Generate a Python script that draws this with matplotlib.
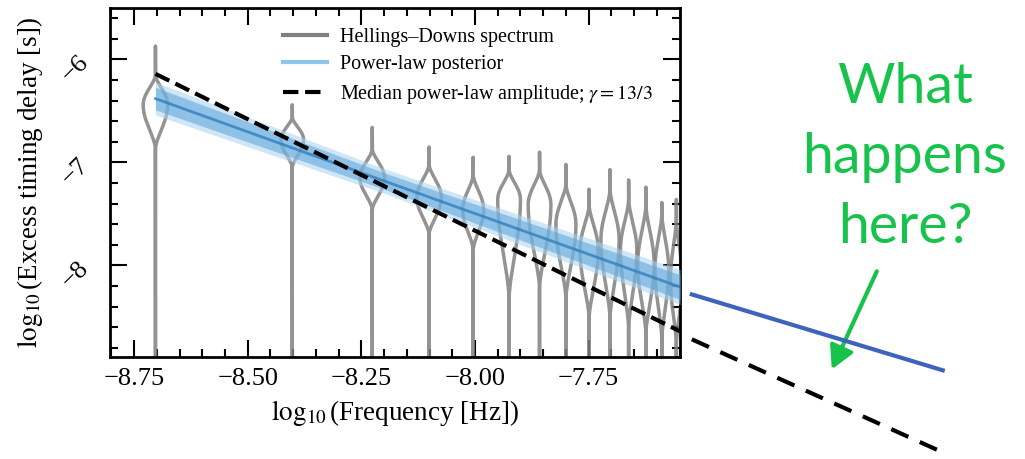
import numpy as np
import matplotlib
matplotlib.use("Agg")
import matplotlib.pyplot as plt
from matplotlib.ticker import MultipleLocator
from matplotlib.lines import Line2D

plt.rcParams['font.family'] = ['Liberation Serif', 'DejaVu Serif']
plt.rcParams['mathtext.fontset'] = 'stix'

# ---------------- data ----------------
# Hellings-Downs free spectrum violins (log10 frequency, log10 delay)
hd_freq = [-8.703, -8.402, -8.226, -8.101, -8.004, -7.925, -7.858,
           -7.800, -7.749, -7.703, -7.662, -7.624, -7.589, -7.557]
hd_top = [-5.87, -6.44, -6.66, -6.85, -6.95, -6.94, -6.90,
          -7.02, -7.26, -7.07, -7.17, -7.24, -7.39, -7.36]
hd_upper = [-6.15, -6.56, -6.87, -7.02, -7.12, -7.07, -7.07,
            -7.21, -7.41, -7.26, -7.36, -7.41, -7.50, -7.55]
hd_peak = [-6.44, -6.78, -7.15, -7.34, -7.46, -7.36, -7.41,
           -7.60, -7.85, -7.75, -7.85, -7.99, -8.04, -8.14]
hd_lower = [-6.87, -7.05, -7.46, -7.70, -7.85, -8.33, -8.23,
            -8.33, -8.52, -8.52, -8.62, -8.67, -8.72, -8.77]
hd_density = [0.027, 0.025, 0.027, 0.027, 0.023, 0.025, 0.025,
              0.022, 0.020, 0.020, 0.018, 0.018, 0.015, 0.013]

# power-law posterior band
post_x = [-8.703, -8.20, -7.549]
post_mid = [-6.38, -7.18, -8.21]
post_inner = [0.11, 0.08, 0.12]
post_outer = [0.16, 0.12, 0.17]

# median power-law amplitude, gamma = 13/3
med_x = [-8.703, -7.549]
med_y = [-6.14, -8.64]

# extrapolations drawn beyond the axes
ext_x = [-7.523, -6.971]
ext_blue_y = [-8.282, -9.019]
ext_black_y = [-8.718, -9.816]
arrow_start = (-7.116, -8.058)
arrow_tip = (-7.215, -9.010)

x_ticks = [-8.75, -8.50, -8.25, -8.00, -7.75]
y_ticks = [-6, -7, -8]
x_lim = (-8.803, -7.549)
y_lim = (-8.89, -5.50)

green_lines = ["What", "happens", "here?"]

# ---------------- figure ----------------
fig = plt.figure(figsize=(10.25, 4.59), dpi=100)
ax = fig.add_axes([110/1025, 1-357/459, 570/1025, 349/459])

gray = '#808080'
for f, top, up, pk, lo, hw in zip(hd_freq, hd_top, hd_upper, hd_peak, hd_lower, hd_density):
    y = np.linspace(y_lim[0] - 0.3, top, 800)
    w = np.zeros_like(y)
    m1 = (y <= up) & (y >= pk)
    s1 = (up - y[m1]) / (up - pk)
    w[m1] = hw * np.sin(np.pi / 2 * s1) ** 1.6
    m2 = (y < pk) & (y >= lo)
    s2 = (y[m2] - lo) / (pk - lo)
    w[m2] = hw * np.sin(np.pi / 2 * s2) ** 1.6
    xs = np.concatenate([f - w, (f + w)[::-1]])
    ys = np.concatenate([y, y[::-1]])
    ax.plot(xs, ys, color=gray, lw=2.5, alpha=0.85, zorder=2)

pm = np.array(post_mid)
pi_ = np.array(post_inner)
po = np.array(post_outer)
ax.fill_between(post_x, pm - po, pm + po, color='#a8d3f0', alpha=0.55, lw=0, zorder=3)
ax.fill_between(post_x, pm - pi_, pm + pi_, color='#5aa4d8', alpha=0.55, lw=0, zorder=3)
ax.plot(post_x, pm, color='#2f7fc0', lw=2, alpha=0.8, zorder=3)

ax.plot(med_x, med_y, color='black', lw=3, ls='--', zorder=4)

ax.set_xlim(*x_lim)
ax.set_ylim(*y_lim)
ax.set_xticks(x_ticks)
ax.set_yticks(y_ticks)
ax.xaxis.set_minor_locator(MultipleLocator(0.05))
ax.yaxis.set_minor_locator(MultipleLocator(0.2))
ax.set_xticklabels([f"\u2212{abs(v):.2f}" for v in x_ticks])
ax.set_yticklabels([f"\u2212{abs(v)}" for v in y_ticks])
ax.tick_params(which='both', direction='in', top=True, right=True, width=1.5)
ax.tick_params(which='major', length=12, labelsize=19)
ax.tick_params(axis='x', which='major', pad=8)
ax.tick_params(axis='y', which='major', pad=12, labelrotation=45)
ax.tick_params(which='minor', length=6)
for sp in ax.spines.values():
    sp.set_linewidth(2)

ax.set_xlabel(r"$\log_{10}$(Frequency [Hz])", fontsize=19.5, labelpad=6)
ax.set_ylabel(r"$\log_{10}$(Excess timing delay [s])", fontsize=19.5, labelpad=9)

handles = [Line2D([], [], color=gray, lw=3),
           Line2D([], [], color='#8ec6ea', lw=3),
           Line2D([], [], color='black', lw=3, ls='--')]
labels = ["Hellings\u2013Downs spectrum", "Power-law posterior",
          r"Median power-law amplitude; $\gamma = 13/3$"]
ax.legend(handles, labels, loc='upper left', bbox_to_anchor=(0.3035, 0.944),
          frameon=False, fontsize=14.5, handlelength=2.2, handletextpad=0.65,
          labelspacing=0.43, borderpad=0, borderaxespad=0)

# extrapolated lines beyond the axes
ax.plot(ext_x, ext_blue_y, color='#3d63bd', lw=3, clip_on=False, zorder=5)
ax.plot(ext_x, ext_black_y, color='black', lw=3, dashes=(4.5, 3), clip_on=False, zorder=5)

green = '#17c34a'
ax.annotate('', xy=arrow_tip, xytext=arrow_start, annotation_clip=False,
            arrowprops=dict(arrowstyle='-|>,head_length=0.55,head_width=0.3',
                            color=green, lw=3, mutation_scale=25,
                            shrinkA=0, shrinkB=0))

for txt, py in zip(green_lines, [103, 173, 243]):
    fig.text(905/1025, 1 - py/459, txt, color=green, fontsize=40,
             family=['Lato', 'DejaVu Sans'], ha='center', va='baseline')

fig.savefig('out.png', dpi=100)
